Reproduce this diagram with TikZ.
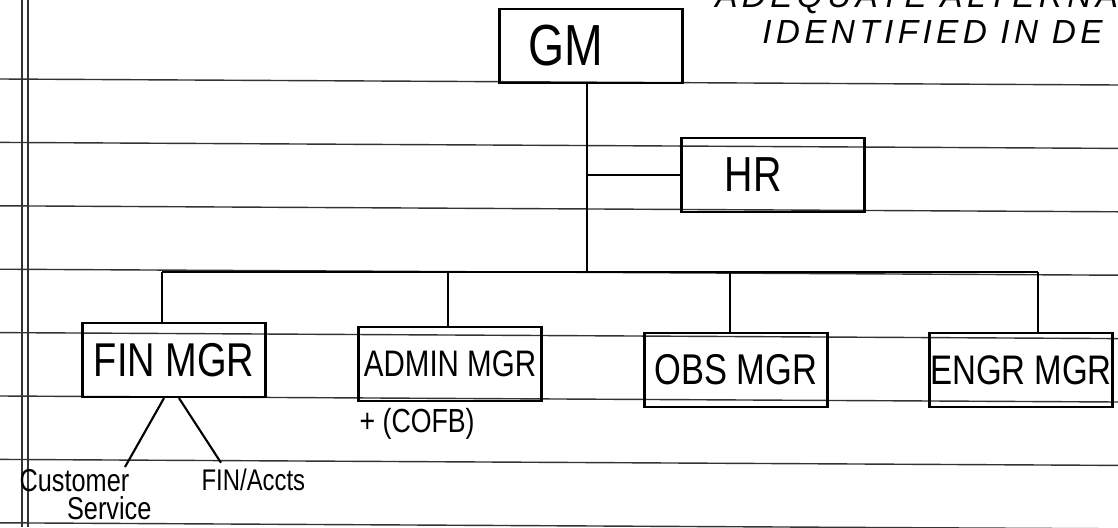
\documentclass[tikz,border=0pt]{standalone}
\usepackage{fontspec}
\setmainfont{Liberation Sans}
\newfontfamily\handfont{Liberation Sans}[FakeStretch=0.8]
\newfontfamily\notefont{Liberation Sans}[LetterSpace=13]
\usetikzlibrary{positioning}
\tikzset{
  mgrbox/.style={draw, line width=1.3pt, minimum width=3.66cm, minimum height=1.48cm,
    inner sep=0pt, font=\handfont\fontsize{#1}{#1}\selectfont},
  mgrbox/.default=22,
  link/.style={line width=1.2pt},
  ruleline/.style={black!80, line width=0.8pt},
  handtext/.style={inner sep=3pt, font=\handfont\fontsize{18}{16}\selectfont},
  notetext/.style={anchor=base west, inner sep=0pt, font=\notefont\itshape\fontsize{19}{21}\selectfont},
}

\begin{document}
\begin{tikzpicture}[x=0.02cm, y=-0.02cm]
  \useasboundingbox (0,0) rectangle (1118,527);
  \clip (0,0) rectangle (1118,527);
  \fill[white] (0,0) rectangle (1118,527);
  \foreach \k in {0,...,7}
    \draw[ruleline] (0, 79+63.4*\k) -- (1118, 85+63.4*\k);
  \foreach \x in {22,28}
    \draw[ruleline] (\x,0) -- (\x,527);

  % note, top right
  \node[notetext] (notea) at (715,8) {ADEQUATE ALTERNATIVES};
  \node[notetext] (noteb) at (762,44) {IDENTIFIED IN DE};

  \node[mgrbox=33] (gm) at (591,46) {GM\hspace*{1cm}};
  \node[mgrbox=28] (hr) at (773,175) {HR\hspace*{0.8cm}};
  \node[mgrbox=27] (finmgr) at (174,360) {FIN MGR};
  \node[mgrbox=21] (adminmgr) at (450,364) {ADMIN MGR};
  \node[mgrbox=24.5] (obsmgr) at (736,370) {OBS MGR};
  \node[mgrbox=23.5] (engrmgr) at (1021,370) {ENGR MGR};
  \node[handtext, font=\handfont\fontsize{19}{19}\selectfont, anchor=north west]
    (cofb) at (354,403) {+ (COFB)};

  \node[handtext, anchor=north west, align=left] (custsvc) at (14,464)
    {Customer\\\hspace*{1.5em}Service};
  \node[handtext, font=\handfont\fontsize{17}{19}\selectfont, anchor=base west]
    (finaccts) at (196,490) {FIN/Accts};

  \coordinate (bus) at (587,272);
  \draw[link] (gm.south -| bus) -- (bus);
  \draw[link] (hr.west) -- (hr.west -| bus);
  \foreach \m/\x in {finmgr/162, adminmgr/448, obsmgr/730, engrmgr/1038}
  {
    \coordinate (drop\m) at (\x,272);
    \draw[link] (drop\m) -- (drop\m |- \m.north);
  }
  \draw[link] (dropfinmgr) -- (dropengrmgr);

  \draw[link] ([xshift=-0.2cm]finmgr.south) -- ([xshift=2.22cm, yshift=-0.06cm]custsvc.north west);
  \draw[link] ([xshift=0.1cm]finmgr.south) -- ([xshift=0.5cm]finaccts.north west);
\end{tikzpicture}
\end{document}
